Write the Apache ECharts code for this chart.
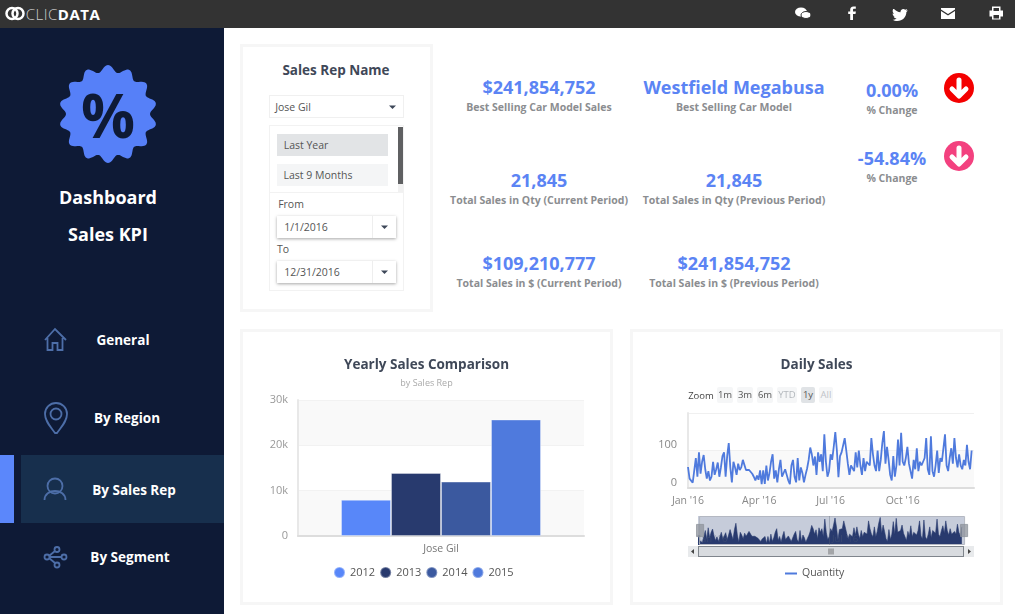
<!DOCTYPE html>
<html><head><meta charset="utf-8">
<script src="https://cdn.jsdelivr.net/npm/echarts@6/dist/echarts.min.js"></script>
<style>
html,body{margin:0;padding:0;width:1015px;height:614px;overflow:hidden;background:#fff;font-family:"Open Sans",sans-serif}
.a{position:absolute;box-sizing:border-box}
.t{position:absolute;white-space:nowrap;transform:translate(-50%,-50%);line-height:1}
.v{font-weight:700;color:#5b84f4;font-size:18px}
.l{font-weight:700;color:#8b8d90;font-size:10.5px}
.n{font-weight:700;color:#fff;font-size:13.5px}
.card{position:absolute;box-sizing:border-box;border:3px solid #f6f6f6;background:#fff}
.r{position:absolute;transform:translate(-50%,-50%);background:#f5f6f7;border-radius:2px;font-size:9.5px;color:#555;height:16px;line-height:16px;text-align:center}
svg{position:absolute;overflow:visible}
</style></head><body>
<div class="a" style="left:0;top:0;width:1015px;height:28px;background:#333"></div>
<div class="a" style="left:0;top:28px;width:224px;height:586px;background:#0e1a36"></div>
<div class="a" style="left:0;top:455px;width:14px;height:68px;background:#5b87fb"></div>
<div class="a" style="left:21px;top:455px;width:203px;height:68px;background:#172f4d"></div>
<svg style="left:0;top:0" width="40" height="28"><circle cx="12" cy="13.500" r="5.500" fill="none" stroke="#fff" stroke-width="2.500"/><circle cx="18" cy="13.500" r="5.500" fill="none" stroke="#fff" stroke-width="2.500"/></svg>
<div class="t" style="left:63px;top:14px;font-size:15px;color:#ccc;letter-spacing:.5px;font-weight:300">CLIC<span style="color:#fff;font-weight:700">DATA</span></div>
<svg style="left:0;top:0" width="1015" height="28" fill="#fff">
<ellipse cx="801" cy="12" rx="6" ry="4.500"/><ellipse cx="806" cy="15" rx="5" ry="3.500" stroke="#333"/>
<path d="M853 20v-6h2.500l.4-2.500H853v-1.500c0-.8.3-1.200 1.300-1.200h1.500V6.500h-2.300c-2.300 0-3.300 1.300-3.300 3.200v1.800h-2V14h2v6z"/>
<path d="M894 9c2 2 4 3 6.500 3.200-.4-2.500 2.800-4.500 4.700-2.500l2-.7-1 1.800 1.800-.4-1.600 1.700c0 5-4 9-9 9-2 0-3.500-.5-4.800-1.300 1.500 0 3-.3 4-1.200-1.500 0-2.500-.8-3-2h1.500c-1.600-.5-2.500-1.600-2.500-3.200l1.500.4c-1.500-1.100-1.800-3-1-4.800z"/>
<path d="M941 8h14v1.500l-7 4.500-7-4.500zM941 11l7 4.500 7-4.500v8h-14z"/>
<path d="M992 6.500h8.500v4h2.500v6h-2.500v3H992v-3h-2.500v-6h2.500zM993.500 8v3h5.500V8zM993.500 15v3.500h5.500V15z" fill-rule="evenodd"/>
</svg>

<svg style="left:0;top:0" width="224" height="300"><path id="badge" fill="#5680f8"/></svg>
<div class="t" style="left:108px;top:115px;font-size:60px;font-weight:700;color:#0e1a36">%</div>
<div class="t" style="left:108px;top:197px;font-size:18px;font-weight:700;color:#fff">Dashboard</div>
<div class="t" style="left:108px;top:234px;font-size:18px;font-weight:700;color:#fff">Sales KPI</div>

<div class="t n" style="left:123px;top:341px">General</div>
<div class="t n" style="left:127px;top:419px">By Region</div>
<div class="t n" style="left:134px;top:491px">By Sales Rep</div>
<div class="t n" style="left:130px;top:558px">By Segment</div>
<svg style="left:0;top:0" width="224" height="614" fill="none" stroke="#4d6ea8" stroke-width="1.800">
<path d="M45 340 55 329 66 340M47.500 338v12h5v-7h5v7h5v-12"/>
<path d="M55 433c-5-7-10-12-10-19a11 11 0 0 1 22 0c0 7-5 12-10 19z"/><circle cx="56" cy="414" r="5.500"/>
<circle cx="55" cy="486" r="7.500"/><path d="M44.500 500c0-12 21-12 21 0"/>
<circle cx="57" cy="549.500" r="2.500"/><circle cx="47" cy="557" r="2.500"/><circle cx="64" cy="557" r="2.500"/><circle cx="57" cy="565" r="2.500"/><path d="M49 556 55 551M49.500 557H61.500M49 558 55 563"/>
</svg>

<div class="card" style="left:240px;top:44px;width:193px;height:268px"></div>
<div class="t" style="left:336px;top:71px;font-size:13.500px;font-weight:700;color:#3f4858">Sales Rep Name</div>
<div class="a" style="left:269px;top:95px;width:135px;height:23px;border:1px solid #f0f0f0"></div>
<div class="t" style="left:293px;top:107px;font-size:10.500px;color:#555">Jose Gil</div>
<svg style="left:0;top:0" width="420" height="300" fill="#3d4758"><path d="M389 105.500h7l-3.500 3.500z"/></svg>
<div class="a" style="left:269px;top:125px;width:135px;height:166px;border:1px solid #f2f2f2"></div>
<div class="a" style="left:269px;top:192px;width:135px;height:1px;background:#f2f2f2"></div>
<div class="a" style="left:277px;top:134px;width:111px;height:22px;background:#e2e4e6"></div>
<div class="t" style="left:306px;top:145px;font-size:10.500px;color:#555">Last Year</div>
<div class="a" style="left:277px;top:164px;width:111px;height:22px;background:#f4f5f6"></div>
<div class="t" style="left:318px;top:175px;font-size:10.500px;color:#555">Last 9 Months</div>
<div class="a" style="left:398px;top:127px;width:5px;height:57px;background:#5f6062"></div>
<div class="a" style="left:398px;top:184px;width:5px;height:8px;background:#f1f1f1"></div>
<div class="t" style="left:291px;top:204px;font-size:10.500px;color:#555">From</div>
<div class="a" style="left:277px;top:216px;width:119px;height:22px;background:#fff;box-shadow:0 1px 3px rgba(0,0,0,.35)"></div>
<div class="a" style="left:372px;top:216px;width:1px;height:22px;background:#eee"></div>
<div class="t" style="left:306px;top:227px;font-size:10.500px;color:#555">1/1/2016</div>
<div class="t" style="left:283px;top:249px;font-size:10.500px;color:#555">To</div>
<div class="a" style="left:277px;top:261px;width:119px;height:22px;background:#fff;box-shadow:0 1px 3px rgba(0,0,0,.35)"></div>
<div class="a" style="left:372px;top:261px;width:1px;height:22px;background:#eee"></div>
<div class="t" style="left:312px;top:272px;font-size:10.500px;color:#555">12/31/2016</div>
<svg style="left:0;top:0" width="420" height="300" fill="#3d4758"><path d="M381 225.500h7l-3.500 3.500z"/><path d="M381 270.500h7l-3.500 3.500z"/></svg>

<div class="t v" style="left:539px;top:87px">$241,854,752</div>
<div class="t l" style="left:539px;top:106.500px">Best Selling Car Model Sales</div>
<div class="t v" style="left:734px;top:87px">Westfield Megabusa</div>
<div class="t l" style="left:734px;top:106.500px">Best Selling Car Model</div>
<div class="t v" style="left:892px;top:90px">0.00%</div>
<div class="t l" style="left:892px;top:110px">% Change</div>
<div class="t v" style="left:892px;top:158px">-54.84%</div>
<div class="t l" style="left:892px;top:178px">% Change</div>
<div class="t v" style="left:539px;top:180px">21,845</div>
<div class="t l" style="left:539px;top:200px">Total Sales in Qty (Current Period)</div>
<div class="t v" style="left:734px;top:180px">21,845</div>
<div class="t l" style="left:734px;top:200px">Total Sales in Qty (Previous Period)</div>
<div class="t v" style="left:539px;top:263px">$109,210,777</div>
<div class="t l" style="left:539px;top:283px">Total Sales in $ (Current Period)</div>
<div class="t v" style="left:734px;top:263px">$241,854,752</div>
<div class="t l" style="left:734px;top:283px">Total Sales in $ (Previous Period)</div>
<svg style="left:0;top:0" width="1015" height="200">
<circle cx="959" cy="88" r="15" fill="#f40000"/><circle cx="959" cy="156" r="15" fill="#f3417f"/>
<path d="M959 80v15M952 89l7 7 7-7" fill="none" stroke="#fff" stroke-width="5" stroke-linecap="round" stroke-linejoin="round"/>
<path d="M959 148v15M952 157l7 7 7-7" fill="none" stroke="#fff" stroke-width="5" stroke-linecap="round" stroke-linejoin="round"/>
</svg>

<div class="card" style="left:240px;top:329px;width:373px;height:276px"></div>
<div class="card" style="left:630px;top:329px;width:373px;height:276px"></div>
<div id="yearly" class="a" style="left:243px;top:332px;width:367px;height:270px"></div>
<div id="daily" class="a" style="left:633px;top:332px;width:367px;height:270px"></div>

<div class="t" style="left:701px;top:396px;font-size:9.500px;color:#444">Zoom</div>
<div class="r" style="left:725px;top:395px;width:16px">1m</div>
<div class="r" style="left:745px;top:395px;width:16px">3m</div>
<div class="r" style="left:765px;top:395px;width:16px">6m</div>
<div class="r" style="left:787px;top:395px;width:20px;color:#b4b8bd">YTD</div>
<div class="r" style="left:808px;top:395px;width:14px;background:#e0e3e6">1y</div>
<div class="r" style="left:826px;top:395px;width:14px;color:#c0c3c8">All</div>

<div class="t" style="left:713px;top:539px;font-size:9.500px;color:rgba(90,100,120,.35)">Jan '16</div>
<div class="t" style="left:845px;top:539px;font-size:9.500px;color:rgba(90,100,120,.35)">Jul '16</div>
<div class="a" style="left:829px;top:516px;width:1px;height:29px;background:rgba(90,100,120,.35)"></div>
<div class="a" style="left:688px;top:546px;width:286px;height:11px;background:#dcdfe2;border-top:1px solid #c4c8cc;border-bottom:1px solid #b8bcc0"></div>
<div class="a" style="left:698px;top:546px;width:266px;height:11px;border:1px solid #7f858c;background:#d8dbdf"></div>
<div class="a" style="left:688px;top:546px;width:10px;height:11px;background:#e8eaec"></div>
<div class="a" style="left:964px;top:546px;width:10px;height:11px;background:#e8eaec"></div>
<svg style="left:0;top:0" width="1015" height="614" fill="#444"><path d="M691 551.500 694 549v5z"/><path d="M971 551.500 968 549v5z"/><path d="M829 548.500v6M831 548.500v6M833 548.500v6" stroke="#555" stroke-width=".8"/></svg>

<script>
const repNames = ['Jose Gil'];
const years = ['2012', '2013', '2014', '2015'];
const sales2012 = [8000];
const sales2013 = [13900];
const sales2014 = [12000];
const sales2015 = [25700];
const yearColors = ['#5887f9', '#283a6e', '#3b599f', '#4f7add'];
const yearlyTicks = ['0', '10k', '20k', '30k'];
const dailyTicks = ["Jan '16", "Apr '16", "Jul '16", "Oct '16"];
const dailyTickDays = [0, 91, 182, 274];
// Quantity, one reading every second day of 2016
const qtyQ1 = [56,25,20,14,12,80,30,95,38,70,88,50,25,45,20,30,70,35,50,68,30,55,85,95,30,85,120,55,15,70,55,35,65,48,55,75,70,48,48,48,44,38,30,20,33];
const qtyQ2 = [22,47,10,47,11,60,20,40,70,90,25,47,15,50,75,30,25,50,35,20,10,60,75,30,15,80,20,55,40,15,35,52,75,108,90,60,84,35,95,70,90,45,143,70,30,45];
const qtyQ3 = [90,75,110,149,100,29,85,95,90,133,100,65,35,60,65,45,95,55,100,60,35,80,45,70,70,60,133,90,60,45,100,45,75,120,152,65,110,75,35,20,85,30,60,129];
const qtyQ4 = [60,147,70,60,80,110,65,45,25,75,50,106,45,70,60,55,80,133,50,35,138,45,30,60,100,40,80,70,65,143,60,45,80,106,65,133,80,55,90,60,50,75,60,115,70,50,100];
const quantity = [...qtyQ1, ...qtyQ2, ...qtyQ3, ...qtyQ4];

// decorative scalloped badge
(function(){
  const lobes = 14, cx = 108, cy = 114, n = 280; let d = '';
  for (let i = 0; i < n; i++) {
    const a = i / n * 2 * Math.PI, r = 45.5 + 3.5 * Math.cos(a * lobes);
    d += (i ? 'L' : 'M') + (cx + r * Math.sin(a)).toFixed(1) + ' ' + (cy - r * Math.cos(a)).toFixed(1);
  }
  document.getElementById('badge').setAttribute('d', d + 'Z');
})();

const font = '"Open Sans", sans-serif';
const yearlySeries = [sales2012, sales2013, sales2014, sales2015];
const yearly = echarts.init(document.getElementById('yearly'));
yearly.setOption({
  animation: false,
  textStyle: { fontFamily: font },
  title: { text: 'Yearly Sales Comparison', subtext: 'by Sales Rep', left: 'center', top: 21, itemGap: 7,
    textStyle: { fontFamily: font, fontSize: 13.5, fontWeight: 700, color: '#3f4858' },
    subtextStyle: { fontFamily: font, fontSize: 9, color: '#aaa' } },
  legend: { left: 85, top: 229, icon: 'circle', itemWidth: 11, itemHeight: 11, itemGap: 4, data: years,
    textStyle: { fontFamily: font, fontSize: 11, color: '#555' } },
  grid: { left: 55, right: 26, top: 68, height: 136 },
  xAxis: { type: 'category', data: repNames,
    axisLine: { lineStyle: { color: '#ddd', width: 2 } }, axisTick: { show: false },
    axisLabel: { color: '#777', fontSize: 10.5, margin: 8 } },
  yAxis: { type: 'value', min: 0, max: 30000, interval: 10000,
    axisLine: { show: true, lineStyle: { color: '#e8e8e8', width: 2 } }, axisTick: { show: false },
    axisLabel: { color: '#999', fontSize: 11, margin: 10, formatter: (v) => yearlyTicks[v / 10000] },
    splitLine: { show: true, lineStyle: { color: '#f2f2f2' } },
    splitArea: { show: true, areaStyle: { color: ['#f9f9f9', '#ffffff'] } } },
  series: years.map((y, i) => ({ name: y, type: 'bar', data: yearlySeries[i], barWidth: 50, barGap: 0,
    itemStyle: { color: yearColors[i], borderColor: 'rgba(255,255,255,.35)', borderWidth: 1 } }))
});

const daily = echarts.init(document.getElementById('daily'));
const qtyPoints = quantity.map((q, i) => [i * 2, q]);
daily.setOption({
  animation: false,
  textStyle: { fontFamily: font },
  title: { text: 'Daily Sales', left: 'center', top: 21, textStyle: { fontFamily: font, fontSize: 13.5, fontWeight: 700, color: '#3f4858' } },
  legend: { left: 147, top: 231, data: [{ name: 'Quantity', icon: 'rect' }], itemWidth: 12, itemHeight: 2, itemGap: 3,
    textStyle: { fontFamily: font, fontSize: 10.5, color: '#555' } },
  grid: [
    { left: 55, right: 26, top: 81, height: 75 },
    { left: 65, width: 266, top: 184, height: 29, show: true, backgroundColor: '#c6ccda', borderWidth: 0 }
  ],
  xAxis: [{ type: 'value', gridIndex: 0, min: 0, max: 365,
    axisLine: { lineStyle: { color: '#ddd', width: 2 } }, axisTick: { show: false }, splitLine: { show: false },
    axisLabel: { color: '#888', fontSize: 10.5, margin: 8, hideOverlap: false,
      customValues: dailyTickDays,
      formatter: v => dailyTicks[dailyTickDays.indexOf(v)] } },
    { type: 'value', gridIndex: 1, min: 0, max: 365, show: false }],
  yAxis: [{ type: 'value', gridIndex: 0, min: 0, max: 200, interval: 100,
    axisLine: { show: true, lineStyle: { color: '#e8e8e8', width: 2 } }, axisTick: { show: false },
    axisLabel: { color: '#888', fontSize: 11, margin: 11, verticalAlign: 'bottom', 
      formatter: v => v === 200 ? '' : String(v) },
    splitLine: { show: true, lineStyle: { color: '#f0f0f0' } },
    splitArea: { show: true, areaStyle: { color: ['#f9f9f9', '#ffffff'] } } },
    { type: 'value', gridIndex: 1, min: 0, max: 160, show: false }],
  dataZoom: [{ type: 'slider', xAxisIndex: 0, filterMode: 'none', start: 0, end: 100, left: 65, width: 266, top: 184, height: 29,
    showDetail: false, showDataShadow: false, brushSelect: false, borderColor: '#b4b8c2', backgroundColor: 'rgba(0,0,0,0)',
    fillerColor: 'rgba(0,0,0,0)',
    handleIcon: 'path://M0,0H7V12H0Z', handleSize: '42%', handleStyle: { color: '#8e939b', borderColor: '#8e939b', opacity: .75 },
    moveHandleSize: 0 }],
  series: [{ name: 'Quantity', type: 'line', xAxisIndex: 0, yAxisIndex: 0, showSymbol: false, symbol: 'none', smooth: false,
    lineStyle: { color: '#4f7add', width: 1.8 }, itemStyle: { color: '#4f7add' },
    data: qtyPoints },
    { name: 'Navigator', type: 'line', xAxisIndex: 1, yAxisIndex: 1, showSymbol: false, symbol: 'none', smooth: false,
    lineStyle: { color: '#283a6e', width: .6 }, areaStyle: { color: '#283a6e', opacity: 1 },
    data: qtyPoints }]
});
</script>
</body></html>
